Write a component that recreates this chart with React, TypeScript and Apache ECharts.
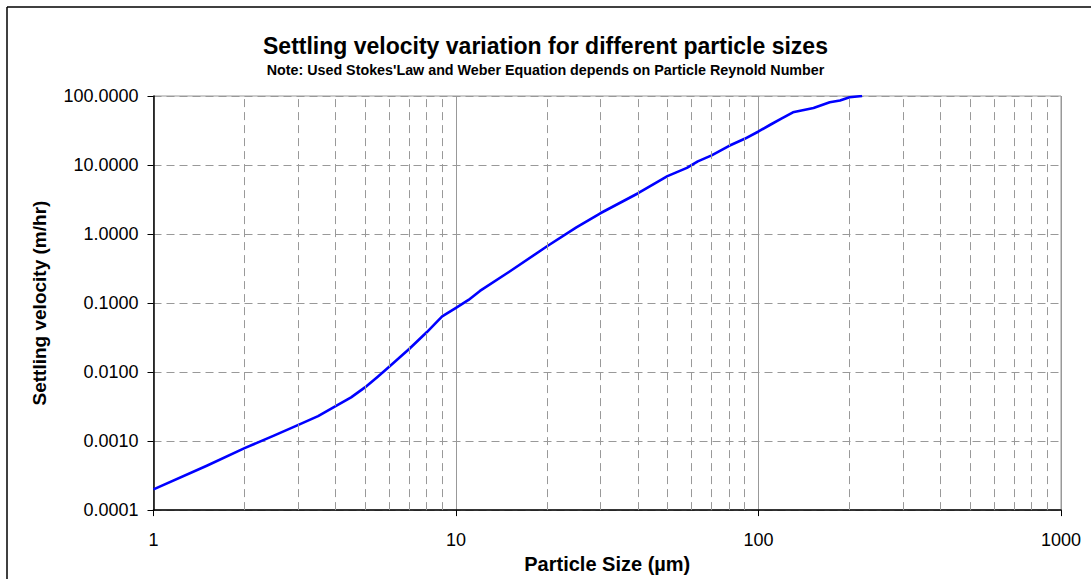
import React, { useEffect, useRef } from "react";
import * as echarts from "echarts";

const particleSizes = [1, 1.5, 2, 2.5, 3, 3.5, 4, 4.5, 5, 5.5, 6, 7, 8, 9, 10, 11, 12, 15, 20, 25, 30, 40, 50, 58, 63, 70, 80, 90, 100, 109, 119, 130, 152, 172, 186, 200, 220];
const velocities = [0.0002, 0.00044, 0.00079, 0.0012, 0.0017, 0.0023, 0.0032, 0.0043, 0.006, 0.0085, 0.0118, 0.0216, 0.0377, 0.064, 0.085, 0.111, 0.15, 0.284, 0.665, 1.25, 2.0, 3.9, 6.9, 9.1, 11.3, 13.8, 19, 24, 30.6, 38, 47, 58, 67, 81, 86, 96, 100];
const minorXLines = [2, 3, 4, 5, 6, 7, 8, 9, 20, 30, 40, 50, 60, 70, 80, 90, 200, 300, 400, 500, 600, 700, 800, 900];

const titleText = "Settling velocity variation for different particle sizes";
const subtitleText = "Note: Used Stokes'Law and Weber Equation depends on Particle Reynold Number";
const xName = "Particle Size (µm)";
const yName = "Settling velocity (m/hr)";

const FONT = "'Liberation Sans', Arial, Helvetica, sans-serif";

export default function App() {
  const ref = useRef<HTMLDivElement>(null);
  useEffect(() => {
    if (!ref.current) return;
    const chart = echarts.init(ref.current, undefined, { renderer: "svg" });
    const data = particleSizes.map((d, i) => [d, velocities[i]]);
    chart.setOption({
      animation: false,
      backgroundColor: "#ffffff",
      textStyle: { fontFamily: FONT },
      title: [
        { text: titleText, left: "center", top: 29, textStyle: { fontFamily: FONT, fontSize: 23, fontWeight: "bold", color: "#000" } },
        { text: subtitleText, left: "center", top: 58, textStyle: { fontFamily: FONT, fontSize: 14.3, fontWeight: "bold", color: "#000" } },
      ],
      graphic: [
        { type: "line", shape: { x1: 7, y1: 7, x2: 1091, y2: 7 }, style: { stroke: "#000", lineWidth: 1.5 } },
        { type: "line", shape: { x1: 7, y1: 7, x2: 7, y2: 579 }, style: { stroke: "#000", lineWidth: 1.5 } },
      ],
      grid: { left: 153.5, right: 30, top: 96, bottom: 65, show: true, borderColor: "#999", borderWidth: 1, backgroundColor: "transparent" },
      xAxis: {
        type: "log",
        logBase: 10,
        min: 1,
        max: 1000,
        name: xName,
        nameLocation: "middle",
        nameGap: 43,
        nameTextStyle: { fontFamily: FONT, fontSize: 20, fontWeight: "bold", color: "#000" },
        axisLine: { show: true, lineStyle: { color: "#000", width: 1.5 } },
        axisTick: { show: true, inside: false, length: 6, lineStyle: { color: "#000" } },
        axisLabel: { fontFamily: FONT, fontSize: 18, color: "#000", margin: 21, formatter: (v: number) => String(Math.round(v)) },
        splitLine: { show: true, lineStyle: { color: "#999", width: 1, type: "solid" } },
        minorTick: { show: false },
      },
      yAxis: {
        type: "log",
        logBase: 10,
        min: 0.0001,
        max: 100,
        name: yName,
        nameLocation: "middle",
        nameGap: 105,
        nameRotate: 90,
        nameTextStyle: { fontFamily: FONT, fontSize: 19, fontWeight: "bold", color: "#000" },
        axisLine: { show: true, lineStyle: { color: "#000", width: 1.5 } },
        axisTick: { show: true, inside: false, length: 6, lineStyle: { color: "#000" } },
        axisLabel: { fontFamily: FONT, fontSize: 18, color: "#000", margin: 15, formatter: (v: number) => v.toFixed(4) },
        splitLine: { show: true, lineStyle: { color: "#999", width: 1, type: [8, 5] } },
      },
      series: [
        {
          type: "line",
          data,
          showSymbol: false,
          symbol: "none",
          clip: true,
          lineStyle: { color: "#0000ff", width: 2.6, join: "round" },
          markLine: {
            silent: true,
            symbol: ["none", "none"],
            label: { show: false },
            lineStyle: { color: "#999", width: 1, type: [8, 5] },
            data: minorXLines.map((v) => ({ xAxis: v })),
          },
          z: 3,
        },
      ],
    });
    return () => chart.dispose();
  }, []);
  return <div ref={ref} style={{ position: "absolute", left: 0, top: 0, width: 1091, height: 579 }} />;
}
